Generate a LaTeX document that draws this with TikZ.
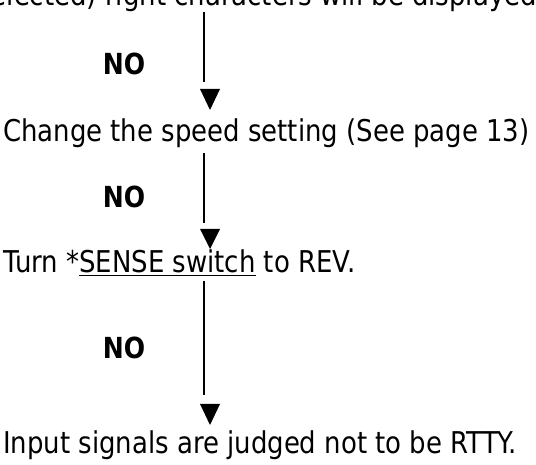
\documentclass[tikz,border=0pt]{standalone}
\usepackage{fontspec}
\setmainfont{DejaVu Sans}[FakeStretch=0.865]
\begin{document}
\begin{tikzpicture}[x=1pt,y=1pt,
    txt/.style={anchor=base west,inner sep=0pt,font=\fontsize{30}{33}\selectfont},
    no/.style={inner sep=0pt,font=\fontsize{29}{33}\selectfont\bfseries},
    line/.style={line width=1.6pt}]
  \clip (0,0) rectangle (536,464);
  % steps
  \node[txt] (t0) at (-33,458) {(selected) right characters will be displayed on};
  \node[txt] (t1) at (3,322) {Change the speed setting (See page 13)};
  \node[txt] (t2) at (3,191) {Turn *\underline{SENSE switch} to REV.};
  \node[txt] (t3) at (3,11) {Input signals are judged not to be RTTY.};
  \node[no] (n1) at (124,400) {NO};
  \node[no] (n2) at (124,267) {NO};
  \node[no] (n3) at (124,116) {NO};
  % arrow heads
  \coordinate (col) at (204,0);
  \coordinate (h1) at (210,354);
  \coordinate (h2) at (210,215);
  \coordinate (h3) at (210,39);
  \begin{scope}[line]
    \draw (t0.south -| col) -- ([yshift=28pt]h1 -| col);
    \draw ([yshift=-5pt]t1.south -| col) -- ([yshift=26pt]h2 -| col);
    \draw ([yshift=-5pt]t2.south -| col) -- ([yshift=30pt]h3 -| col);
  \end{scope}
  \fill (h1) -- ++(-10,21) -- ++(20,0) -- cycle;
  \fill (h2) -- ++(-10,20) -- ++(20,0) -- cycle;
  \fill (h3) -- ++(-10,21) -- ++(20,0) -- cycle;
\end{tikzpicture}
\end{document}
